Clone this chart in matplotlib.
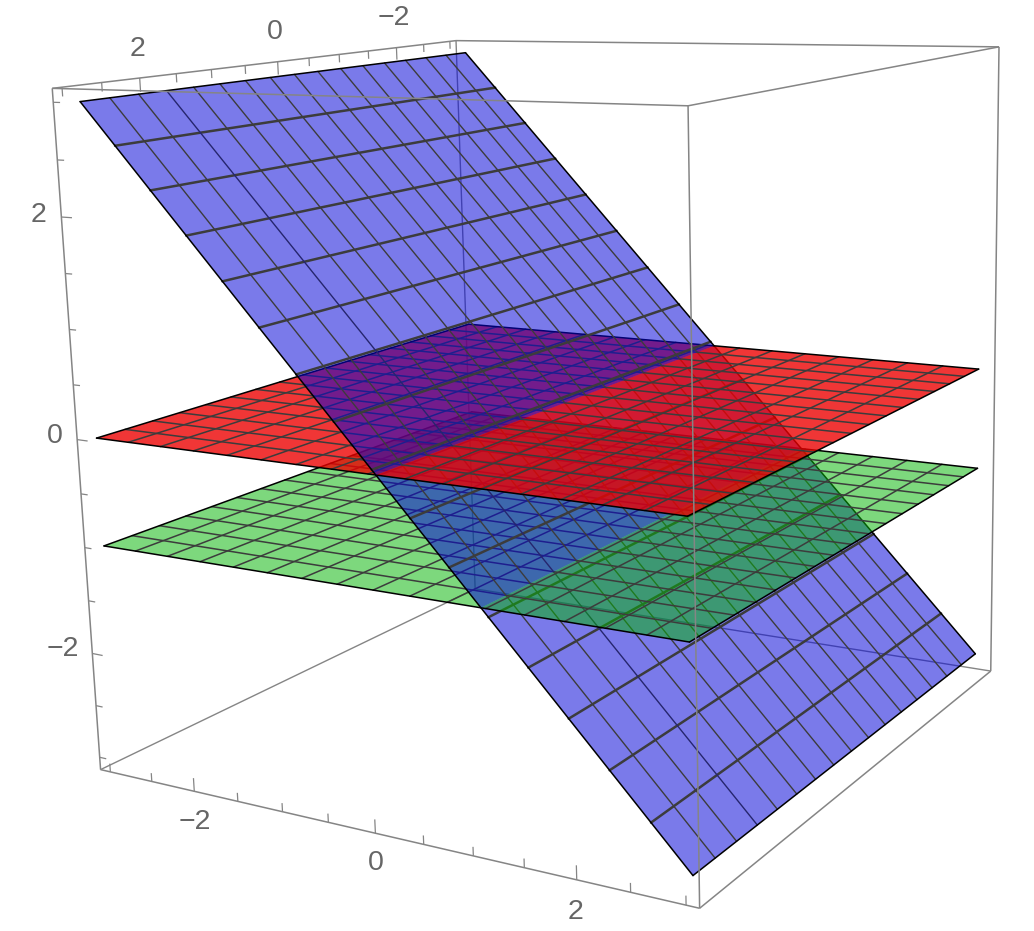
import numpy as np
import matplotlib
matplotlib.use("Agg")
import matplotlib.pyplot as plt
from matplotlib.collections import LineCollection, PolyCollection

plt.rcParams['font.family'] = ['Liberation Sans', 'DejaVu Sans']

# ---- data -------------------------------------------------------------
DOMAIN = [-3.0, 3.0]
RED_Z = 0.0
GREEN_Z = -1.0
BLUE_SLOPE = -1.0
BLUE_OFFSET = 0.08
BLUE_X_RANGE = [-2.92, 3.0]
MESH_INTERVALS = 16
BOX_HALF = 3.12
TICK_VALUES = [-3, -2.5, -2, -1.5, -1, -0.5, 0, 0.5, 1, 1.5, 2, 2.5, 3]
MAJOR_TICKS = [-2, 0, 2]
TICK_LABELS = ['\u22122', '0', '2']

# ---- camera (calibrated to the view) ----------------------------------
CAMERA = np.array([
    [77.56352338637699, -77.546433387598, -8.111920768926096, 557.4903067753885],
    [0.04265479123005382, 5.4748138528040275, -108.14904956954052, 402.047763424173],
    [-0.024000797199768865, -0.03903858958859255, -0.009545791999107045, 1.0]])

# ---- style -------------------------------------------------------------
BLUE = (5/255, 5/255, 217/255, 0.53)
RED = (236/255, 0, 0, 0.79)
GREEN = (6/255, 181/255, 6/255, 0.52)
MESH = '#3c3c3c'
EDGE = '#000000'
BOX = '#858585'
TEXT = '#666666'


def project(points):
    p = np.asarray(points, float)
    h = np.column_stack([p, np.ones(len(p))]) @ CAMERA.T
    return h[:, :2] / h[:, 2:3]


fig = plt.figure(figsize=(10.34, 9.31), dpi=100)
ax = fig.add_axes([0, 0, 1, 1])
ax.set_xlim(0, 1034)
ax.set_ylim(931, 0)
ax.axis('off')

layer = [10]


def z_of(kind, x):
    if kind == 'blue':
        return BLUE_SLOPE * x + BLUE_OFFSET
    return kind


def add_piece(kind, color, xa, xb, xlines, ylines, xlw, ylw, outer_lo, outer_hi,
              accent=None):
    """One flat strip of a surface between x=xa and x=xb."""
    y0, y1 = DOMAIN
    quad = [(xa, y0, z_of(kind, xa)), (xb, y0, z_of(kind, xb)),
            (xb, y1, z_of(kind, xb)), (xa, y1, z_of(kind, xa))]
    z = layer[0]
    ax.add_collection(PolyCollection([project(quad)], facecolors=[color],
                                     edgecolors='none', zorder=z))
    segs, cols, lws = [], [], []
    for x in xlines:
        if xa < x < xb:
            segs.append(project([(x, y0, z_of(kind, x)), (x, y1, z_of(kind, x))]))
            cols.append(MESH)
            lws.append(xlw)
    for i, y in enumerate(ylines):
        segs.append(project([(xa, y, z_of(kind, xa)), (xb, y, z_of(kind, xb))]))
        cols.append('#26266e' if accent == i else MESH)
        lws.append(ylw)
    # outline
    for y in DOMAIN:
        segs.append(project([(xa, y, z_of(kind, xa)), (xb, y, z_of(kind, xb))]))
        cols.append(EDGE)
        lws.append(1.1)
    if outer_lo:
        segs.append(project([(xa, y0, z_of(kind, xa)), (xa, y1, z_of(kind, xa))]))
        cols.append(EDGE)
        lws.append(1.1)
    if outer_hi:
        segs.append(project([(xb, y0, z_of(kind, xb)), (xb, y1, z_of(kind, xb))]))
        cols.append(EDGE)
        lws.append(1.1)
    ax.add_collection(LineCollection(segs, colors=cols, linewidths=lws,
                                     zorder=z + 1, capstyle='round'))
    layer[0] += 2


# ---- back of the box, hidden behind the surfaces ------------------------
a = BOX_HALF
corner = {'A': (-a, a, a), 'B': (-a, -a, a), 'C': (a, -a, a), 'D': (a, a, a),
          'E': (-a, a, -a), 'F': (a, a, -a), 'G': (a, -a, -a), 'H': (-a, -a, -a)}
back_edges = ['BH', 'EH', 'GH']
front_edges = ['AB', 'BC', 'CD', 'DA', 'AE', 'DF', 'CG', 'EF', 'FG']
ax.add_collection(LineCollection(
    [project([corner[e[0]], corner[e[1]]]) for e in back_edges],
    colors=BOX, linewidths=1.0, zorder=1))

# ---- surfaces, back to front -------------------------------------------
flat_x = np.linspace(*DOMAIN, MESH_INTERVALS + 1)[1:-1]
flat_y = flat_x
blue_x = np.linspace(*BLUE_X_RANGE, MESH_INTERVALS + 1)[1:-1]
blue_y = flat_x[::-1]
x_red = (RED_Z - BLUE_OFFSET) / BLUE_SLOPE
x_green = (GREEN_Z - BLUE_OFFSET) / BLUE_SLOPE

add_piece('blue', BLUE, x_green, BLUE_X_RANGE[1], blue_x, blue_y, 1.8, 1.0,
          False, True, accent=2)
add_piece(GREEN_Z, GREEN, DOMAIN[0], DOMAIN[1], flat_x, flat_y, 1.1, 1.1, True, True)
add_piece('blue', BLUE, x_red, x_green, blue_x, blue_y, 1.8, 1.0,
          False, False, accent=2)
add_piece(RED_Z, RED, DOMAIN[0], DOMAIN[1], flat_x, flat_y, 1.1, 1.1, True, True)
add_piece('blue', BLUE, BLUE_X_RANGE[0], x_red, blue_x, blue_y, 1.8, 1.0,
          True, False, accent=2)

# ---- front of the box and ticks ----------------------------------------
top = layer[0]
ax.add_collection(LineCollection(
    [project([corner[e[0]], corner[e[1]]]) for e in front_edges],
    colors=BOX, linewidths=1.1, zorder=top))

tick_segs = []
MAJOR_LEN, MINOR_LEN = 0.125, 0.08
for t in TICK_VALUES:
    ln = MAJOR_LEN if t in MAJOR_TICKS else MINOR_LEN
    tick_segs.append(project([(t, a, -a), (t, a, -a + ln)]))     # x axis, bottom
    tick_segs.append(project([(-a, t, a), (-a, t, a - ln)]))     # y axis, top
    tick_segs.append(project([(-a, a, t), (-a + ln, a, t)]))     # z axis, left
ax.add_collection(LineCollection(tick_segs, colors=BOX, linewidths=0.9, zorder=top))

# label offsets in pixels from the tick foot, in the order of MAJOR_TICKS
X_OFF = [(1, 31), (0, 30), (-1, 32)]
Y_OFF = [(-3, -30), (-3, -30), (-2, -29)]
Z_OFF = [(-30, -4), (-22, -4), (-23, -2)]
for t, lab, ox, oy, oz in zip(MAJOR_TICKS, TICK_LABELS, X_OFF, Y_OFF, Z_OFF):
    for world, off in (((t, a, -a), ox), ((-a, t, a), oy), ((-a, a, t), oz)):
        px, py = project([world])[0]
        ax.text(px + off[0], py + off[1], lab, ha='center', va='center',
                fontsize=20.5, color=TEXT, zorder=top + 1)

fig.savefig('out.png', dpi=100, facecolor='white')
